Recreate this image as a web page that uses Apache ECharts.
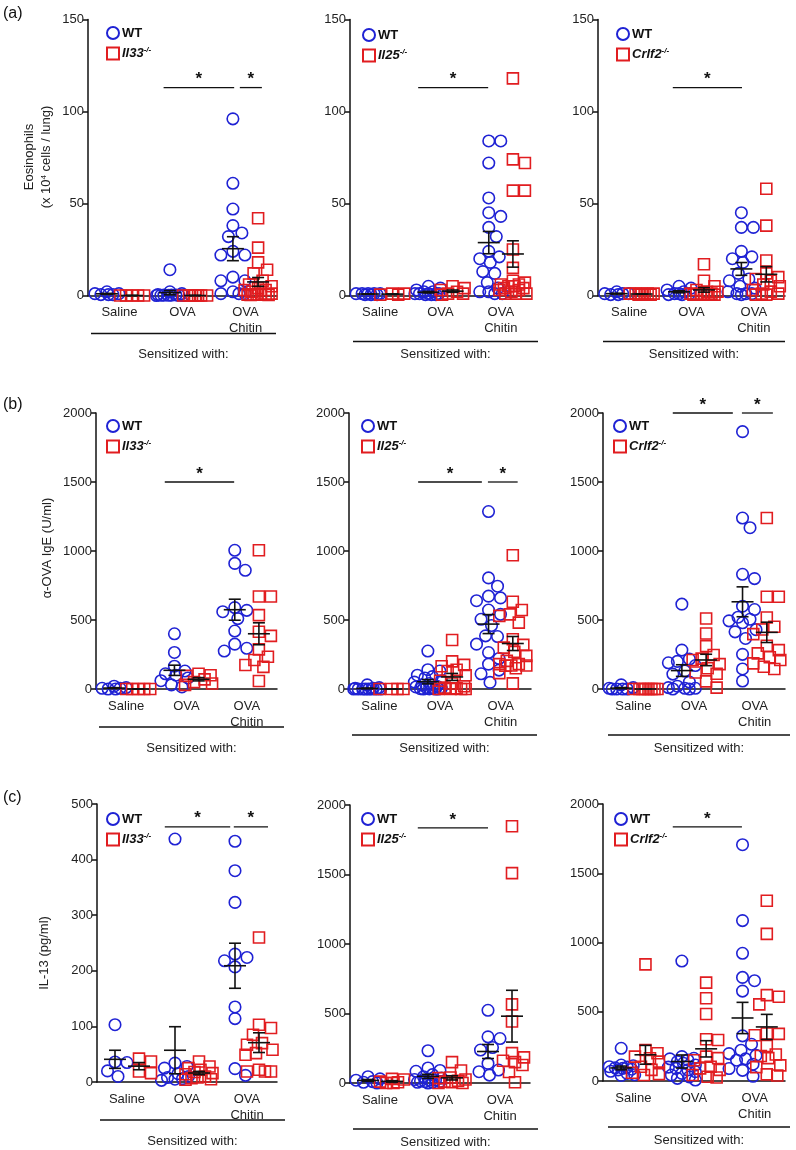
<!DOCTYPE html>
<html><head><meta charset="utf-8">
<script src="https://cdn.jsdelivr.net/npm/echarts@6/dist/echarts.min.js"></script>
<style>html,body{margin:0;padding:0;background:#fff}#c{width:796px;height:1150px}</style>
</head><body><div id="c"></div>
<script>
// ---------- DATA ----------
const categories = ['Saline', 'OVA', 'OVA\nChitin'];
const koNames = ['Il33', 'Il25', 'Crlf2'];
const rowLabels = ['(a)', '(b)', '(c)'];
const yTitles = ['Eosinophils', '\u03b1-OVA IgE (U/ml)', 'IL-13 (pg/ml)'];
const sensitizedText = 'Sensitized with:';

// Row (a): Eosinophils (x 10^4 cells / lung)
const eos_Il33_WT = [[0.5,0.5,1,1,2,0.5],[14,2,1,0.5,0.3,0.2,0.2,0.1,0.1,0.1,0,0],[96,61,47,38,34,32,24,22,22,10,8,8,2,1,1,1]];
const eos_Il33_KO = [[0,0,0,0,0],[0,0,0,0,0,0,0],[42,26,18,14,12,8,6,5,4,3,3,2,1,1,0.5,0.5,0.5,0.5,0.3,0.3]];
const eos_Il25_WT = [[1,1,1,0.5,0.5,1,1,0.5],[5,4,3,2,2,1,1,1,0.5,0.5,0.5,1],[84,84,72,53,45,43,37,32,24,21,20,18,13,12,7,4,2,2,1,1]];
const eos_Il25_KO = [[1,1,0.5,0.5],[5,4,3,2,1,1,0.5],[118,74,72,57,57,25,15,8,7,6,6,5,5,4,4,3,3,2,1,1,1]];
const eos_Crlf2_WT = [[2,1,1,0.5,0.5,1],[5,4,3,2,1,1,0.5,0.5,1],[45,37,37,24,21,20,18,12,9,8,5,4,2,1,1,1,0.5]];
const eos_Crlf2_KO = [[1,1,1,0.5,0.5,1,1,0.5],[17,8,5,3,2,2,1,1,1,0.5,0.5,0.5,0.5,0.5],[58,38,19,12,10,9,8,6,5,3,2,1,1,0.5,0.5]];

// Row (b): alpha-OVA IgE (U/ml)
const ige_Il33_WT = [[20,10,5,5,0,0],[400,265,165,130,110,100,80,60,30,15],[1005,910,860,590,570,560,510,420,325,295,275]];
const ige_Il33_KO = [[0,0,0,0,0],[110,100,95,70,50,40,30],[1005,670,670,535,415,385,287,234,210,174,160,58]];
const ige_Il25_WT = [[30,10,5,5,0,0,0,0,0,0,0,0],[275,140,130,100,90,80,60,50,40,30,20,15,10,5,5,2,1,0,0,0],[1286,805,745,673,660,640,572,541,505,460,385,380,325,264,221,180,137,110,48]];
const ige_Il25_KO = [[0,0,0,0],[355,200,175,165,140,130,100,60,40,20,10,5,0,0,0,0],[969,632,572,541,530,481,361,320,300,269,240,204,180,180,170,170,168,150,115,41]];
const ige_Crlf2_WT = [[30,10,5,0,0,0,0],[615,282,217,200,190,170,130,108,50,20,10,5,5,0,0],[1865,1239,1169,831,800,600,576,520,505,494,480,430,414,366,251,145,58]];
const ige_Crlf2_KO = [[0,0,0,0,0,0,0,0],[511,402,311,246,220,210,180,150,120,110,55,10],[1239,668,668,518,451,431,398,313,282,258,230,210,186,161,145]];

// Row (c): IL-13 (pg/ml)
const il13_Il33_WT = [[103,36,35,20,10],[437,34,28,25,15,10,8,6,5,3],[433,380,323,230,224,218,207,135,114,24,12]];
const il13_Il33_KO = [[42,37,19,16],[37,28,25,22,18,16,14,10,8,7,5,4],[260,103,97,85,70,67,58,52,49,22,19,19,19]];
const il13_Il25_WT = [[45,30,20,10,5,0],[232,108,90,84,60,45,36,25,20,20,15,10,10,5,5,0],[523,332,320,255,237,141,93,81,57]];
const il13_Il25_KO = [[30,25,10,5,0,0],[150,90,40,35,25,15,10,5,0,0],[1847,1510,566,442,215,184,160,150,130,79,5]];
const il13_Crlf2_WT = [[236,115,110,103,100,95,91,85,80,70,55,45,40],[866,176,164,160,152,140,128,115,100,91,80,67,55,43,30,19,7],[1706,1158,922,748,724,649,326,265,222,198,185,160,150,121,90,77,34]];
const il13_Crlf2_KO = [[842,224,200,176,164,140,103,80,60,50,43],[710,597,484,301,296,176,165,150,103,91,80,43,31,25],[1301,1062,620,608,553,343,340,330,253,191,180,165,113,100,48,40]];

// y-axis ranges (max, interval) per panel
const yMax = [150,150,150, 2000,2000,2000, 500,2000,2000];
const yStep = [50,50,50, 500,500,500, 100,500,500];

// significance bars: [x1, x2, y] in category units (0..3) and y-data units
const sig_a = [[[1.2,2.32,113],[2.41,2.76,113]], [[1.13,2.29,113]], [[1.2,2.31,113]]];
const sig_b = [[[1.14,2.29,1500]], [[1.14,2.19,1500],[2.29,2.78,1500]], [[1.15,2.14,2000],[2.29,2.8,2000]]];
const sig_c = [[[1.13,2.22,459],[2.28,2.85,459]], [[1.13,2.3,1835]], [[1.15,2.29,1835]]];

// ---------- LAYOUT ----------
const FONT = 'Liberation Sans, Arial, Helvetica, sans-serif';
const BLUE = '#1f22d4', RED = '#e11d20', INK = '#111';
const grids = [
  {left:88, top:19.5, width:189, height:276},
  {left:350, top:19.5, width:181, height:276},
  {left:598, top:19.5, width:187, height:276},
  {left:96, top:413, width:181, height:276},
  {left:349, top:413, width:182, height:276},
  {left:603, top:413, width:182, height:276},
  {left:97, top:804, width:180, height:278},
  {left:350, top:805, width:180, height:278},
  {left:603, top:804, width:182, height:277}
];
const panelData = [
  [eos_Il33_WT, eos_Il33_KO], [eos_Il25_WT, eos_Il25_KO], [eos_Crlf2_WT, eos_Crlf2_KO],
  [ige_Il33_WT, ige_Il33_KO], [ige_Il25_WT, ige_Il25_KO], [ige_Crlf2_WT, ige_Crlf2_KO],
  [il13_Il33_WT, il13_Il33_KO], [il13_Il25_WT, il13_Il25_KO], [il13_Crlf2_WT, il13_Crlf2_KO]
];
const panelSig = [...sig_a, ...sig_b, ...sig_c];
const groupOffset = [0.3, 0.7];

function swarm(values, pxY, maxSpread) {
  const placed = [];
  const out = new Array(values.length);
  const order = values.map((v, i) => i).sort((a, b) => values[b] - values[a]);
  const d = 11.5;
  for (const i of order) {
    const y = values[i] * pxY;
    let best = 0, bestScore = -Infinity;
    outer:
    for (let k = 0; k <= 10; k++) {
      for (const s of (k === 0 ? [1] : [1, -1])) {
        const dx = s * k * 1.5;
        if (Math.abs(dx) > maxSpread) continue;
        let minD = Infinity;
        for (const p of placed) minD = Math.min(minD, Math.hypot(p.dx - dx, p.y - y));
        if (minD >= d) { best = dx; bestScore = Infinity; break outer; }
        if (minD > bestScore + 0.01) { bestScore = minD; best = dx; }
      }
    }
    placed.push({dx: best, y});
    out[i] = best;
  }
  return out;
}
function meanSem(arr) {
  const n = arr.length;
  const m = arr.reduce((a, b) => a + b, 0) / n;
  const sd = Math.sqrt(arr.reduce((a, b) => a + (b - m) * (b - m), 0) / (n - 1));
  return [m, sd / Math.sqrt(n)];
}

const option = {
  animation: false,
  backgroundColor: '#fff',
  textStyle: {fontFamily: FONT},
  grid: [], xAxis: [], yAxis: [], series: [], legend: [], graphic: []
};

grids.forEach((g, i) => {
  option.grid.push({left: g.left, top: g.top, width: g.width, height: g.height, containLabel: false, outerBoundsMode: 'none'});
  option.xAxis.push({
    gridIndex: i, type: 'value', min: 0, max: 3, interval: 0.5,
    axisLine: {onZero: false, lineStyle: {color: INK, width: 1.5}},
    axisTick: {show: false}, splitLine: {show: false},
    axisLabel: {
      color: '#222', fontSize: 13, lineHeight: 16, margin: 9, fontFamily: FONT,
      formatter: v => { for (let k = 0; k < 3; k++) if (Math.abs(v - (k + 0.5)) < 1e-6) return categories[k]; return ''; }
    }
  });
  option.yAxis.push({
    gridIndex: i, type: 'value', min: 0, max: yMax[i], interval: yStep[i],
    axisLine: {show: true, lineStyle: {color: INK, width: 1.5}},
    axisTick: {show: true, length: 5, lineStyle: {color: INK, width: 1.5}},
    axisLabel: {color: '#222', fontSize: 13, margin: 4, fontFamily: FONT, formatter: v => String(v)},
    splitLine: {show: false}
  });
  const pxX = g.width / 3, pxY = g.height / yMax[i];
  const ko = koNames[i % 3];
  const means = [];
  panelData[i].forEach((genoArr, gi) => {
    const pts = [];
    genoArr.forEach((vals, c) => {
      const center = c + groupOffset[gi];
      const off = swarm(vals, pxY, 13.5);
      vals.forEach((v, k) => pts.push([center + off[k] / pxX, v]));
      const ms = meanSem(vals);
      means.push([center, ms[0], ms[1]]);
    });
    option.series.push({
      type: 'scatter', name: gi === 0 ? 'WT' : ko, xAxisIndex: i, yAxisIndex: i,
      symbol: gi === 0 ? 'circle' : 'rect', symbolSize: gi === 0 ? 11.5 : 11,
      itemStyle: {color: 'rgba(255,255,255,0)', borderColor: gi === 0 ? BLUE : RED, borderWidth: 1.6, opacity: 1},
      clip: false, silent: true, data: pts, z: 2
    });
  });
  option.series.push({
    type: 'custom', xAxisIndex: i, yAxisIndex: i, clip: false, silent: true, z: 5,
    encode: {x: 0, y: 1},
    data: means,
    renderItem: (params, api) => {
      const x = api.value(0), m = api.value(1), s = api.value(2);
      const c = api.coord([x, m]), t = api.coord([x, m + s]), b = api.coord([x, m - s]);
      const st = {stroke: INK, lineWidth: 1.6};
      return {type: 'group', children: [
        {type: 'line', shape: {x1: c[0] - 11, y1: c[1], x2: c[0] + 11, y2: c[1]}, style: st},
        {type: 'line', shape: {x1: t[0], y1: t[1], x2: b[0], y2: b[1]}, style: st},
        {type: 'line', shape: {x1: t[0] - 6, y1: t[1], x2: t[0] + 6, y2: t[1]}, style: st},
        {type: 'line', shape: {x1: b[0] - 6, y1: b[1], x2: b[0] + 6, y2: b[1]}, style: st}
      ]};
    }
  });
  option.series.push({
    type: 'custom', xAxisIndex: i, yAxisIndex: i, clip: false, silent: true, z: 5,
    encode: {x: [0, 1], y: 2},
    data: panelSig[i],
    renderItem: (params, api) => {
      const p1 = api.coord([api.value(0), api.value(2)]), p2 = api.coord([api.value(1), api.value(2)]);
      return {type: 'group', children: [
        {type: 'line', shape: {x1: p1[0], y1: p1[1], x2: p2[0], y2: p2[1]}, style: {stroke: INK, lineWidth: 1.3}},
        {type: 'text', x: (p1[0] + p2[0]) / 2, y: p1[1] - 8, style: {text: '*', fontSize: 17, fontWeight: 'bold', fill: INK, align: 'center', verticalAlign: 'middle', fontFamily: FONT}}
      ]};
    }
  });
  // legend
  const legLeft = [106, 362, 616, 106, 361, 613, 106, 361, 614][i];
  const legTop = [26, 28, 27, 419, 419, 419, 812, 812, 812][i];
  option.legend.push({
    left: legLeft, top: legTop, orient: 'vertical', itemWidth: 12, itemHeight: 12, itemGap: 6,
    selectedMode: false, padding: 0,
    data: [
      {name: 'WT', icon: 'circle', itemStyle: {color: 'rgba(255,255,255,0)', borderColor: BLUE, borderWidth: 2}},
      {name: ko, icon: 'rect', itemStyle: {color: 'rgba(255,255,255,0)', borderColor: RED, borderWidth: 2}}
    ],
    formatter: n => n === 'WT' ? '{b|WT}' : '{it|' + n + '}{sup|-/-}',
    textStyle: {
      fontFamily: FONT, color: INK, padding: [0, 0, 0, -2],
      rich: {
        b: {fontSize: 13, fontWeight: 'bold', color: INK, fontFamily: FONT, lineHeight: 15},
        it: {fontSize: 13, fontWeight: 'bold', fontStyle: 'italic', color: INK, fontFamily: FONT, lineHeight: 15},
        sup: {fontSize: 8, fontWeight: 'bold', fontStyle: 'italic', color: INK, fontFamily: FONT, verticalAlign: 'top', lineHeight: 9}
      }
    }
  });
  // "Sensitized with:" line + text
  const col = i % 3;
  const axisY = g.top + g.height;
  const lineY = axisY + (col === 0 ? 38 : 46);
  const x1 = g.left + (col === 2 ? 5 : 3), x2 = g.left + (col === 2 ? 187 : 188);
  option.graphic.push({type: 'line', silent: true, shape: {x1: x1, y1: lineY, x2: x2, y2: lineY}, style: {stroke: INK, lineWidth: 1.3}});
  option.graphic.push({type: 'text', silent: true, x: (x1 + x2) / 2, y: axisY + 59,
    style: {text: sensitizedText, fontSize: 13, fill: '#222', align: 'center', verticalAlign: 'middle', fontFamily: FONT}});
});

// row labels and y-axis titles
[[3, 6], [3, 397], [3, 790]].forEach((p, r) => {
  option.graphic.push({type: 'text', silent: true, x: p[0], y: p[1],
    style: {text: rowLabels[r], fontSize: 16, fill: INK, fontFamily: FONT}});
});
option.graphic.push({type: 'text', silent: true, x: 29, y: 157, rotation: Math.PI / 2,
  style: {text: yTitles[0], fontSize: 13, fill: '#222', align: 'center', verticalAlign: 'middle', fontFamily: FONT}});
option.graphic.push({type: 'text', silent: true, x: 46, y: 157, rotation: Math.PI / 2,
  style: {text: '(x 10{s|4} cells / lung)', fontSize: 13, fill: '#222', align: 'center', verticalAlign: 'middle', fontFamily: FONT,
    rich: {s: {fontSize: 8, verticalAlign: 'top', lineHeight: 9, fill: '#222', fontFamily: FONT}}}});
option.graphic.push({type: 'text', silent: true, x: 47, y: 548, rotation: Math.PI / 2,
  style: {text: yTitles[1], fontSize: 13, fill: '#222', align: 'center', verticalAlign: 'middle', fontFamily: FONT}});
option.graphic.push({type: 'text', silent: true, x: 44, y: 953, rotation: Math.PI / 2,
  style: {text: yTitles[2], fontSize: 13, fill: '#222', align: 'center', verticalAlign: 'middle', fontFamily: FONT}});

const chart = echarts.init(document.getElementById('c'), null, {renderer: 'canvas'});
chart.setOption(option);
</script></body></html>
